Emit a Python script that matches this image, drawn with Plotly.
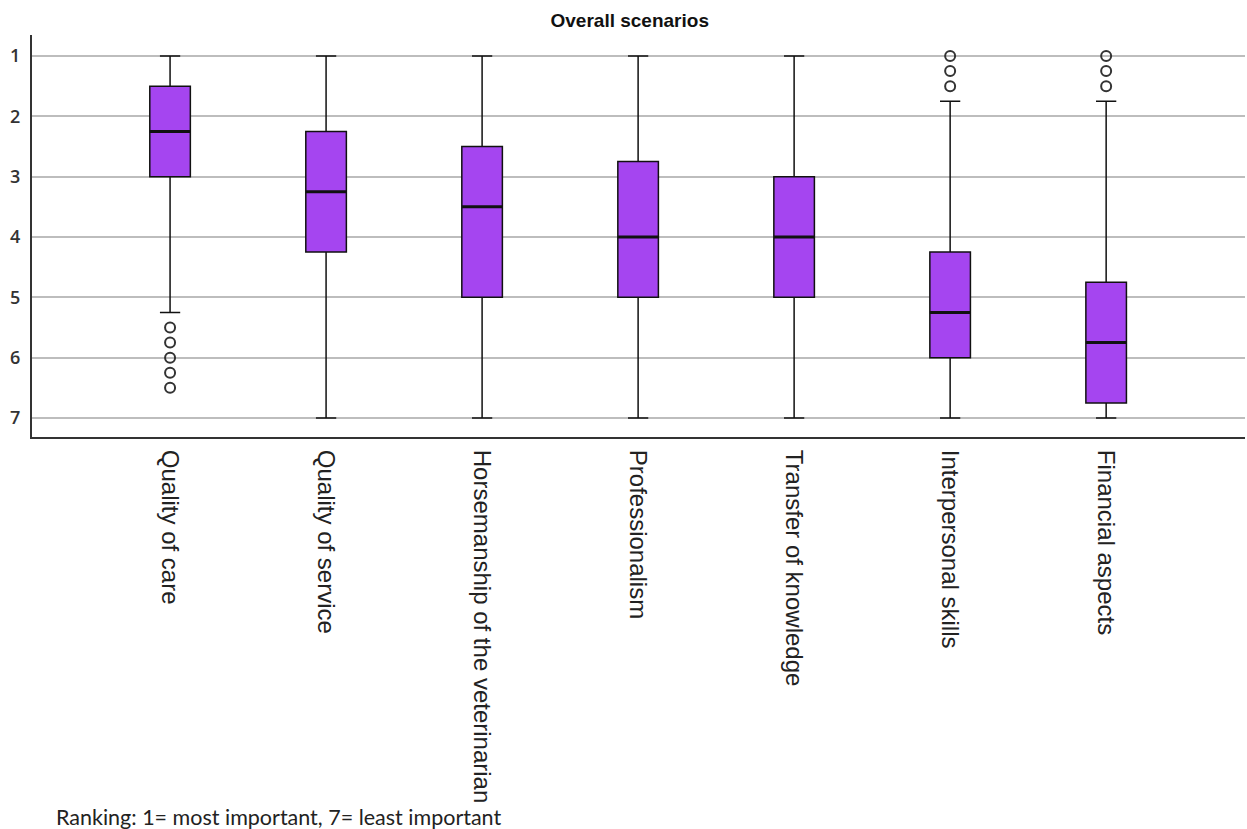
import plotly.graph_objects as go

# Ranking of attributes (1 = most important, 7 = least important)
categories = [
    "Quality of care",
    "Quality of service",
    "Horsemanship of the veterinarian",
    "Professionalism",
    "Transfer of knowledge",
    "Interpersonal skills",
    "Financial aspects",
]
lower_whisker = [1, 1, 1, 1, 1, 1.75, 1.75]
q1_values = [1.5, 2.25, 2.5, 2.75, 3, 4.25, 4.75]
median_values = [2.25, 3.25, 3.5, 4, 4, 5.25, 5.75]
q3_values = [3, 4.25, 5, 5, 5, 6, 6.75]
upper_whisker = [5.25, 7, 7, 7, 7, 7, 7]
outliers = [
    [5.5, 5.75, 6, 6.25, 6.5],
    [],
    [],
    [],
    [],
    [1, 1.25, 1.5],
    [1, 1.25, 1.5],
]
y_ticks = [1, 2, 3, 4, 5, 6, 7]

box_fill = "#A545F0"
box_width = 0.26
positions = list(range(len(categories)))

fig = go.Figure()

fig.add_trace(go.Box(
    x=positions,
    q1=q1_values,
    median=median_values,
    q3=q3_values,
    lowerfence=lower_whisker,
    upperfence=upper_whisker,
    width=box_width,
    whiskerwidth=0.5,
    fillcolor=box_fill,
    line=dict(color="#111111", width=1.5),
    boxpoints=False,
    hoverinfo="skip",
    showlegend=False,
))

# heavier median bars drawn over each box
for i, m in enumerate(median_values):
    fig.add_trace(go.Scatter(
        x=[i - box_width / 2, i + box_width / 2],
        y=[m, m],
        mode="lines",
        line=dict(color="#111111", width=3),
        hoverinfo="skip",
        showlegend=False,
    ))

# outlying responses
ox, oy = [], []
for i, pts in enumerate(outliers):
    for v in pts:
        ox.append(i)
        oy.append(v)
fig.add_trace(go.Scatter(
    x=ox,
    y=oy,
    mode="markers",
    marker=dict(symbol="circle-open", size=10, color="#333333",
                line=dict(width=2, color="#333333")),
    hoverinfo="skip",
    showlegend=False,
))

fig.update_layout(
    width=1247,
    height=829,
    autosize=False,
    margin=dict(l=32, r=2, t=35, b=392),
    paper_bgcolor="white",
    plot_bgcolor="white",
    title=dict(
        text="<b>Overall scenarios</b>",
        x=0.505, xanchor="center",
        y=0.975, yanchor="middle",
        font=dict(family="Liberation Sans, Arial", size=19, color="#111111"),
    ),
    xaxis=dict(
        range=[-0.885, 6.89],
        tickvals=positions,
        ticktext=categories,
        tickangle=90,
        tickfont=dict(family="Liberation Sans, Arial", size=24, color="#222222"),
        showgrid=False,
        zeroline=False,
        showline=True,
        linecolor="#333333",
        linewidth=2,
        ticks="",
        ticklabelstandoff=6,
    ),
    yaxis=dict(
        range=[7.315, 0.652],
        tickvals=y_ticks,
        tickfont=dict(family="Open Sans, DejaVu Sans", size=18, color="#333333", weight=600),
        showgrid=True,
        gridcolor="#BDBDBD",
        gridwidth=1.5,
        zeroline=False,
        showline=True,
        linecolor="#333333",
        linewidth=2,
        ticks="",
        ticklabelstandoff=6,
    ),
    annotations=[
        dict(
            text="Ranking: 1= most important, 7= least important",
            xref="paper", yref="paper",
            x=0.018, y=-0.945,
            xanchor="left", yanchor="middle",
            showarrow=False,
            font=dict(family="Lato, Open Sans", size=21.5, color="#222222"),
        )
    ],
)

fig.write_html("out.html")
